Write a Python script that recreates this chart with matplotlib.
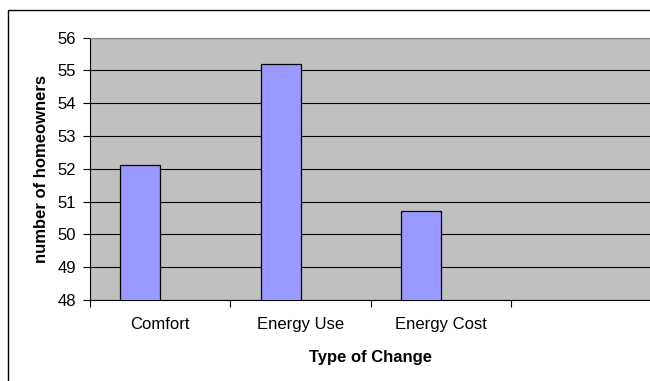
import numpy as np
import matplotlib.pyplot as plt
from matplotlib.patches import Rectangle

plt.rcParams['font.family'] = ['Liberation Sans', 'DejaVu Sans']

# 数据
categories = ["Comfort", "Energy Use", "Energy Cost"]
homeowners = [52.1, 55.2, 50.7]
n_slots = 4  # 第四个类别为空

fig = plt.figure(figsize=(6.5, 3.81), dpi=100)

# 外框
fig.patches.append(Rectangle((7.5 / 650, -0.1), 1.2, 1 - 9.5 / 381 + 0.1,
                             transform=fig.transFigure, fill=False,
                             edgecolor='black', linewidth=1.0, clip_on=False))

ax = fig.add_axes([90 / 650, 81 / 381, 562 / 650, 262.5 / 381])
ax.set_facecolor('#C0C0C0')

# 柱子宽度 (两个系列, 间距150%)
w = 1 / 3.5
x = np.arange(len(categories)) + 0.5
ax.bar(x - w / 2, homeowners, width=w, color='#9999FF', edgecolor='black',
       linewidth=0.9, zorder=3)

ax.set_xlim(0, n_slots)
ax.set_ylim(48, 56)
ax.set_yticks(np.arange(48, 57, 1))
ax.yaxis.grid(True, color='black', linewidth=0.8, zorder=1)
ax.set_axisbelow(True)

ax.set_xticks(np.arange(0, n_slots + 1))
ax.set_xticklabels([])
ax.set_xticks(x, minor=True)
ax.set_xticklabels(categories, minor=True)
ax.tick_params(axis='x', which='minor', length=0, pad=12, labelsize=12)
ax.tick_params(axis='x', which='major', length=5, width=0.8, direction='out')
ax.tick_params(axis='y', length=5, width=0.8, direction='out', pad=5, labelsize=12)

for s in ['top', 'right']:
    ax.spines[s].set_color('#808080')
for s in ['left', 'bottom']:
    ax.spines[s].set_color('black')

ax.set_xlabel("Type of Change", fontsize=12, fontweight='bold', labelpad=13)
ax.set_ylabel("number of homeowners", fontsize=12, fontweight='bold', labelpad=6)

plt.savefig("out.png", dpi=100)
